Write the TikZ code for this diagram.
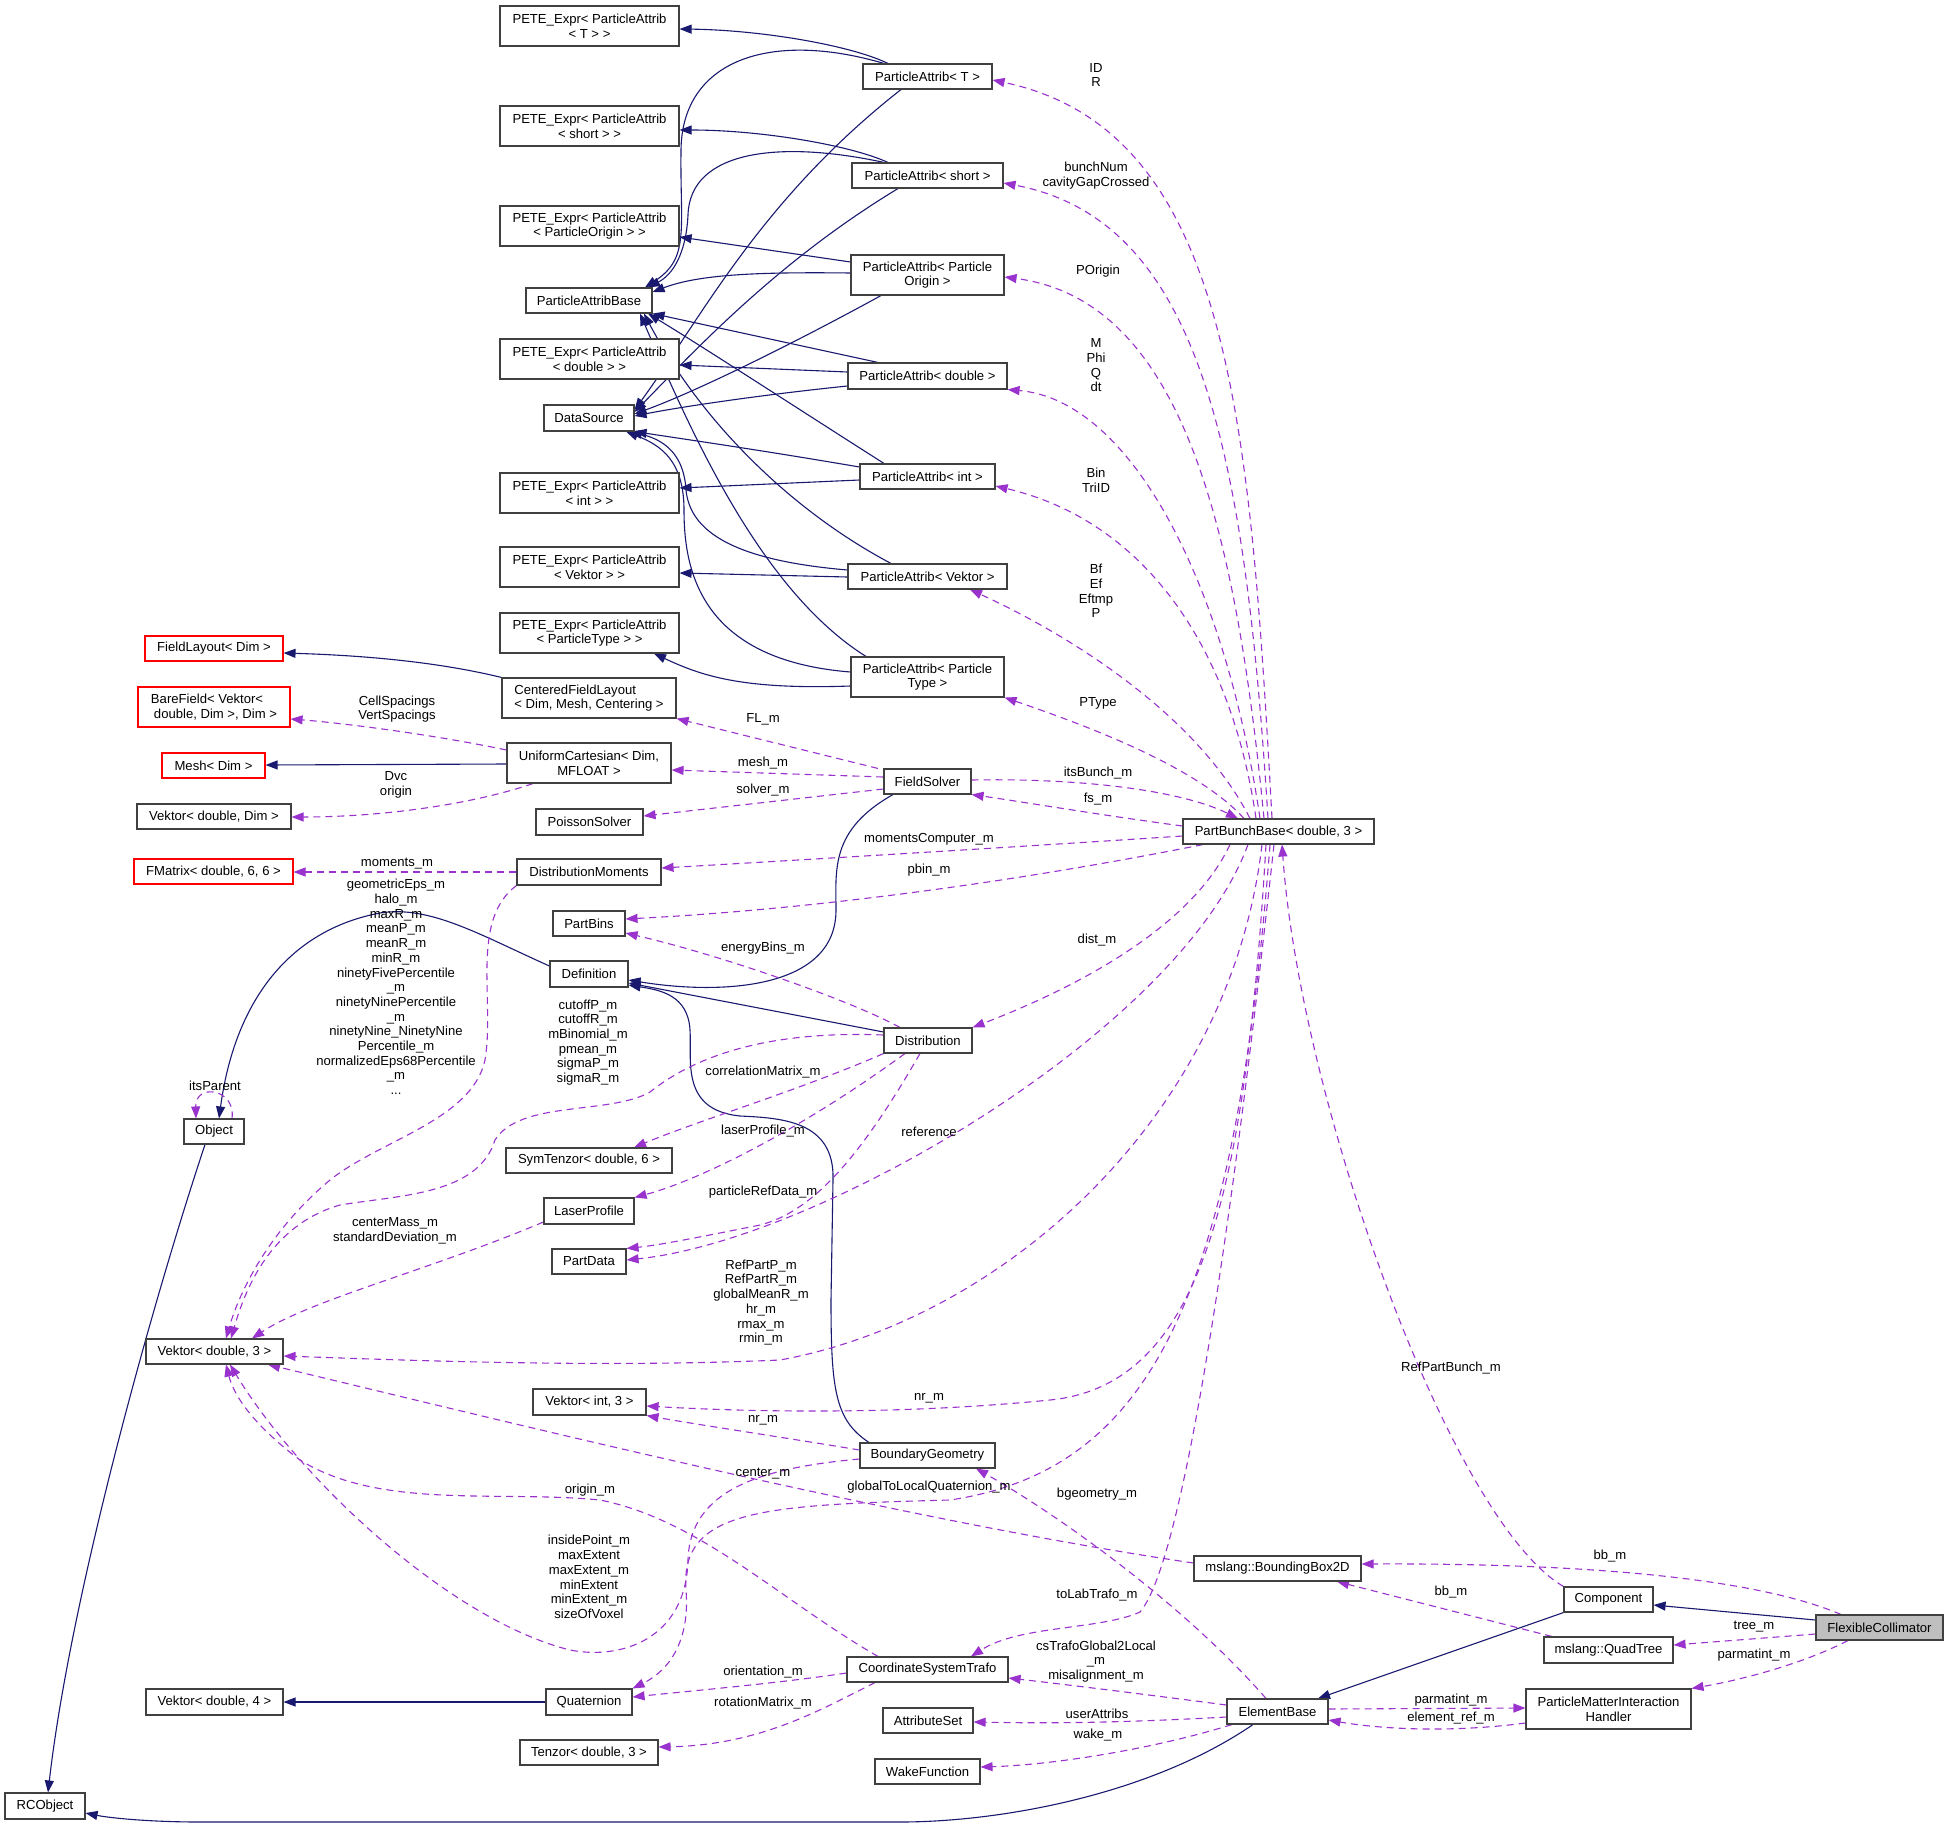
\documentclass[tikz,border=0pt]{standalone}
\usepackage{fontspec}
\setmainfont{Liberation Sans}
\usetikzlibrary{arrows.meta}
\definecolor{navy}{HTML}{191970}
\definecolor{purp}{HTML}{9A32CD}
\definecolor{bord}{HTML}{404040}
\pgfdeclarelayer{paper}
\pgfdeclarelayer{edges}
\pgfsetlayers{paper,edges,main}
\begin{document}
\begin{tikzpicture}[x=1pt,y=-1pt,
  every node/.style={font=\fontsize{13.1}{14.7}\selectfont},
  box/.style={draw=bord,line width=1.1pt,fill=white,inner sep=0pt,align=center},
  redbox/.style={box,draw=red},
  lbl/.style={inner sep=0pt,align=center},
  inh/.style={draw=navy,line width=1.1pt,-{Triangle[length=12pt,width=9pt]}},
  col/.style={draw=purp,line width=1.1pt,dash pattern=on 7pt off 5pt,-{Triangle[length=12pt,width=9pt]}}]
\useasboundingbox (0,0) rectangle (1948,1827);
\begin{pgfonlayer}{paper}
\fill[white] (0,0) rectangle (1948,1827);
\end{pgfonlayer}
% ---------- nodes ----------
\node[box,minimum width=179pt,minimum height=40pt] (peteT) at (589.5,26) {PETE\_Expr< ParticleAttrib\\< T > >};
\node[box,minimum width=179pt,minimum height=40pt] (peteS) at (589.5,126) {PETE\_Expr< ParticleAttrib\\< short > >};
\node[box,minimum width=179pt,minimum height=40pt] (peteO) at (589.5,226) {PETE\_Expr< ParticleAttrib\\< ParticleOrigin > >};
\node[box,minimum width=126pt,minimum height=25pt] (pab) at (589,300.5) {ParticleAttribBase};
\node[box,minimum width=179pt,minimum height=40pt] (peteD) at (589.5,359) {PETE\_Expr< ParticleAttrib\\< double > >};
\node[box,minimum width=90pt,minimum height=26pt] (ds) at (589,418) {DataSource};
\node[box,minimum width=179pt,minimum height=40pt] (peteI) at (589.5,493) {PETE\_Expr< ParticleAttrib\\< int > >};
\node[box,minimum width=179pt,minimum height=40pt] (peteV) at (589.5,567) {PETE\_Expr< ParticleAttrib\\< Vektor > >};
\node[box,minimum width=179pt,minimum height=40pt] (peteP) at (589.5,633) {PETE\_Expr< ParticleAttrib\\< ParticleType > >};
\node[box,minimum width=129pt,minimum height=25pt] (paT) at (927.5,76.5) {ParticleAttrib< T >};
\node[box,minimum width=151pt,minimum height=25pt] (paS) at (927.5,175.5) {ParticleAttrib< short >};
\node[box,minimum width=153pt,minimum height=40pt] (paO) at (927.5,275) {ParticleAttrib< Particle\\Origin >};
\node[box,minimum width=159pt,minimum height=26pt] (paD) at (927.5,376) {ParticleAttrib< double >};
\node[box,minimum width=135pt,minimum height=25pt] (paI) at (927.5,476.5) {ParticleAttrib< int >};
\node[box,minimum width=159pt,minimum height=25pt] (paV) at (927.5,576.5) {ParticleAttrib< Vektor >};
\node[box,minimum width=153pt,minimum height=40pt] (paP) at (927.5,677) {ParticleAttrib< Particle\\Type >};
\node[redbox,minimum width=138pt,minimum height=25pt] (fieldLayout) at (214,648.5) {FieldLayout< Dim >};
\node[box,align=left,minimum width=174pt,minimum height=40pt] (cfl) at (589,698) {CenteredFieldLayout\\< Dim, Mesh, Centering >};
\node[redbox,align=left,minimum width=152pt,minimum height=40pt] (bareField) at (214,707) {BareField< Vektor<\\\hspace*{3pt}double, Dim >, Dim >};
\node[box,minimum width=164pt,minimum height=40pt] (uc) at (589,763) {UniformCartesian< Dim,\\MFLOAT >};
\node[redbox,minimum width=103pt,minimum height=25pt] (mesh) at (213.5,765.5) {Mesh< Dim >};
\node[box,minimum width=154pt,minimum height=25pt] (vekDim) at (214,816.5) {Vektor< double, Dim >};
\node[box,minimum width=107pt,minimum height=26pt] (poisson) at (589.5,822) {PoissonSolver};
\node[redbox,minimum width=159pt,minimum height=25pt] (fmatrix) at (213.5,871.5) {FMatrix< double, 6, 6 >};
\node[box,minimum width=144pt,minimum height=26pt] (dm) at (589,872) {DistributionMoments};
\node[box,minimum width=87pt,minimum height=25pt] (fs) at (927.5,781.5) {FieldSolver};
\node[box,minimum width=191pt,minimum height=25pt] (pbb) at (1278.5,831.5) {PartBunchBase< double, 3 >};
\node[box,minimum width=72pt,minimum height=25pt] (partBins) at (589,923.5) {PartBins};
\node[box,minimum width=78pt,minimum height=26pt] (definition) at (589,974) {Definition};
\node[box,minimum width=60pt,minimum height=25pt] (object) at (214,1131.5) {Object};
\node[box,minimum width=166pt,minimum height=25pt] (symT) at (589,1160.5) {SymTenzor< double, 6 >};
\node[box,minimum width=90pt,minimum height=26pt] (laser) at (589,1211) {LaserProfile};
\node[box,minimum width=74pt,minimum height=25pt] (partData) at (589,1261.5) {PartData};
\node[box,minimum width=137pt,minimum height=25pt] (vek3) at (214.5,1351.5) {Vektor< double, 3 >};
\node[box,minimum width=88pt,minimum height=25pt] (distribution) at (928,1040.5) {Distribution};
\node[box,minimum width=113pt,minimum height=26pt] (vekI3) at (589.5,1402) {Vektor< int, 3 >};
\node[box,minimum width=86pt,minimum height=26pt] (quat) at (589,1702) {Quaternion};
\node[box,minimum width=137pt,minimum height=26pt] (vek4) at (214.5,1702) {Vektor< double, 4 >};
\node[box,minimum width=138pt,minimum height=25pt] (tenzor) at (589,1752.5) {Tenzor< double, 3 >};
\node[box,minimum width=80pt,minimum height=26pt] (rc) at (45,1806) {RCObject};
\node[box,minimum width=135pt,minimum height=25pt] (bg) at (927.5,1455.5) {BoundaryGeometry};
\node[box,minimum width=161pt,minimum height=25pt] (cst) at (927.5,1669.5) {CoordinateSystemTrafo};
\node[box,minimum width=90pt,minimum height=25pt] (attr) at (928,1720.5) {AttributeSet};
\node[box,minimum width=105pt,minimum height=25pt] (wake) at (927.5,1771.5) {WakeFunction};
\node[box,minimum width=101pt,minimum height=25pt] (eb) at (1277.5,1711.5) {ElementBase};
\node[box,minimum width=167pt,minimum height=25pt] (bb2d) at (1277.5,1568.5) {mslang::BoundingBox2D};
\node[box,minimum width=89pt,minimum height=25pt] (comp) at (1608.5,1599.5) {Component};
\node[box,fill={rgb,255:red,191;green,191;blue,191},minimum width=127pt,minimum height=25pt] (fc) at (1879.5,1627.5) {FlexibleCollimator};
\node[box,minimum width=129pt,minimum height=26pt] (qt) at (1608.5,1650) {mslang::QuadTree};
\node[box,minimum width=165pt,minimum height=40pt] (pmih) at (1608.5,1709) {ParticleMatterInteraction\\Handler};
% ---------- edges ----------
\begin{pgfonlayer}{edges}
% inheritance
\draw[inh] (paT.north -| 888,0) .. controls (850,45) and (760,30) .. (peteT.east |- 0,29);
\draw[inh] (paT.north -| 884,0) .. controls (770,30) and (682,60) .. (681,150) .. controls (680,230) and (690,258) .. (pab.north -| 645,0);
\draw[inh] (paS.north -| 888,0) .. controls (850,145) and (760,130) .. (peteS.east |- 0,130);
\draw[inh] (paS.north -| 884,0) .. controls (780,140) and (690,150) .. (688,215) .. controls (686,255) and (672,275) .. (pab.north -| 648,0);
\draw[inh] (paO.west |- 0,262) -- (peteO.east |- 0,237);
\draw[inh] (paO.west |- 0,273) .. controls (760,272) and (700,274) .. (pab.east |- 0,292);
\draw[inh] (paT.south -| 901,0) .. controls (760,200) and (700,320) .. (ds.east |- 0,410);
\draw[inh] (paS.south -| 898,0) .. controls (780,260) and (700,345) .. (ds.east |- 0,412);
\draw[inh] (paO.south -| 881,0) .. controls (800,340) and (700,390) .. (ds.east |- 0,414);
\draw[inh] (paD.west |- 0,386) .. controls (760,395) and (680,407) .. (ds.east |- 0,416);
\draw[inh] (paD.west |- 0,372) -- (peteD.east |- 0,365);
\draw[inh] (paD.north -| 878,0) -- (pab.south east);
\draw[inh] (paI.north -| 884,0) .. controls (800,410) and (700,345) .. (pab.south -| 648,0);
\draw[inh] (paI.west |- 0,467) .. controls (760,450) and (690,440) .. (ds.south east);
\draw[inh] (paI.west |- 0,480) -- (peteI.east |- 0,488);
\draw[inh] (paV.west |- 0,577) -- (peteV.east |- 0,573);
\draw[inh] (paV.west |- 0,570) .. controls (730,560) and (690,530) .. (686,490) .. controls (684,455) and (665,440) .. (ds.south -| 630,0);
\draw[inh] (paV.north -| 891,0) .. controls (790,510) and (700,420) .. (pab.south -| 644,0);
\draw[inh] (paP.north -| 866,0) .. controls (760,590) and (690,430) .. (pab.south -| 640,0);
\draw[inh] (paP.west |- 0,672) .. controls (700,660) and (684,570) .. (684,510) .. controls (684,460) and (660,445) .. (ds.south -| 626,0);
\draw[inh] (paP.west |- 0,686) .. controls (740,690) and (700,675) .. (peteP.south -| 654,0);
\draw[inh] (cfl.north west) .. controls (430,660) and (350,655) .. (fieldLayout.east |- 0,653);
\draw[inh] (uc.west |- 0,764) -- (mesh.east |- 0,765);
\draw[inh] (distribution.west |- 0,1032) -- (definition.east |- 0,983);
\draw[inh] (fs.south -| 893,0) .. controls (830,830) and (836,870) .. (836,910) .. controls (836,990) and (720,995) .. (definition.east |- 0,980);
\draw[inh] (bg.north -| 869,0) .. controls (835,1420) and (831,1390) .. (831,1300) -- (833,1180) .. controls (835,1120) and (780,1118) .. (740,1116) .. controls (680,1110) and (692,1060) .. (690,1030) .. controls (688,995) and (660,990) .. (definition.east |- 0,985);
\draw[inh] (definition.west |- 0,966) .. controls (480,935) and (430,905) .. (380,913) .. controls (290,930) and (235,1000) .. (object.north -| 219,0);
\draw[inh] (object.south -| 205,0) .. controls (150,1310) and (70,1600) .. (rc.north -| 48,0);
\draw[inh] (eb.south -| 1253,0) .. controls (1150,1795) and (1000,1822) .. (900,1822) -- (200,1822) .. controls (150,1822) and (110,1818) .. (rc.east |- 0,1813);
\draw[inh] (comp.south west) -- (eb.north -| 1318,0);
\draw[inh] (fc.west |- 0,1620) -- (comp.east |- 0,1605);
\draw[inh] (quat.west) -- (vek4.east);
% collaboration
\draw[col] (pbb.north -| 1272,0) .. controls (1250,420) and (1230,130) .. (paT.east |- 0,80);
\draw[col] (pbb.north -| 1268,0) .. controls (1245,450) and (1200,220) .. (paS.east |- 0,183);
\draw[col] (pbb.north -| 1264,0) .. controls (1235,520) and (1180,300) .. (paO.east |- 0,277);
\draw[col] (pbb.north -| 1260,0) .. controls (1225,580) and (1130,400) .. (paD.south east);
\draw[col] (pbb.north -| 1256,0) .. controls (1230,640) and (1140,520) .. (paI.east |- 0,486);
\draw[col] (pbb.north -| 1250,0) .. controls (1200,720) and (1080,640) .. (paV.south -| 970,0);
\draw[col] (pbb.north -| 1244,0) .. controls (1200,770) and (1100,730) .. (paP.south east);
\draw[col] (fs.east |- 0,780) .. controls (1080,778) and (1180,790) .. (pbb.north -| 1238,0);
\draw[col] (pbb.west |- 0,826) .. controls (1100,815) and (1030,803) .. (fs.south east);
\draw[col] (pbb.west |- 0,836) .. controls (1000,848) and (800,860) .. (dm.east |- 0,868);
\draw[col] (pbb.south -| 1203,0) .. controls (1000,885) and (800,910) .. (partBins.east |- 0,919);
\draw[col] (pbb.south -| 1230,0) .. controls (1190,930) and (1070,990) .. (distribution.north east);
\draw[col] (pbb.south -| 1248,0) .. controls (1180,1030) and (820,1240) .. (partData.east |- 0,1260);
\draw[col] (pbb.south -| 1262,0) .. controls (1230,1120) and (1000,1320) .. (780,1360) .. controls (600,1368) and (400,1360) .. (vek3.east |- 0,1356);
\draw[col] (pbb.south -| 1266,0) .. controls (1245,1200) and (1200,1385) .. (1050,1400) .. controls (900,1415) and (750,1412) .. (vekI3.east |- 0,1406);
\draw[col] (pbb.south -| 1270,0) .. controls (1235,1300) and (1150,1470) .. (950,1500) .. controls (760,1505) and (680,1510) .. (686,1590) .. controls (690,1640) and (670,1670) .. (quat.north east);
\draw[col] (pbb.south -| 1274,0) .. controls (1235,1200) and (1185,1560) .. (1140,1612) .. controls (1100,1630) and (1020,1625) .. (cst.north -| 971,0);
\draw[col] (comp.north west) .. controls (1450,1520) and (1300,1100) .. (pbb.south -| 1282,0);
\draw[col] (dm.south west) .. controls (470,920) and (495,1000) .. (485,1060) .. controls (472,1120) and (380,1140) .. (330,1180) .. controls (270,1230) and (240,1290) .. (vek3.north -| 226,0);
\draw[col] (distribution.west |- 0,1035) .. controls (760,1030) and (690,1060) .. (650,1092) .. controls (610,1115) and (520,1100) .. (495,1140) .. controls (478,1195) and (400,1195) .. (340,1205) .. controls (270,1225) and (245,1290) .. (vek3.north -| 231,0);
\draw[col] (distribution.south west) .. controls (800,1090) and (700,1120) .. (symT.north -| 634,0);
\draw[col] (distribution.south -| 905,0) .. controls (800,1130) and (700,1180) .. (laser.north east);
\draw[col] (distribution.south -| 920,0) .. controls (870,1140) and (820,1210) .. (760,1225) .. controls (700,1237) and (660,1245) .. (partData.north east);
\draw[col] (distribution.north -| 900,0) .. controls (850,1000) and (720,955) .. (partBins.east |- 0,933);
\draw[col] (laser.west |- 0,1222) .. controls (430,1270) and (310,1300) .. (vek3.north -| 252,0);
\draw[col] (uc.south -| 533,0) .. controls (470,805) and (380,817) .. (vekDim.east |- 0,817);
\draw[col] (uc.west |- 0,750) .. controls (420,732) and (330,722) .. (bareField.east |- 0,719);
\draw[col] (fs.north -| 878,0) -- (cfl.south east);
\draw[col] (fs.west |- 0,777) -- (uc.east |- 0,770);
\draw[col] (fs.west |- 0,789) -- (poisson.east |- 0,816);
\draw[col] (dm.west |- 0,872) -- (fmatrix.east |- 0,872);
\draw[col] (object.north -| 232,0) .. controls (236,1088) and (195,1083) .. (object.north -| 196,0);
\draw[col] (bg.west |- 0,1450) .. controls (800,1440) and (700,1425) .. (vekI3.south east);
\draw[col] (bg.west |- 0,1459) .. controls (760,1468) and (690,1490) .. (688,1560) .. controls (686,1640) and (620,1660) .. (570,1650) .. controls (450,1620) and (300,1480) .. (vek3.south -| 230,0);
\draw[col] (cst.north -| 878,0) .. controls (780,1600) and (700,1520) .. (600,1500) .. controls (500,1490) and (380,1510) .. (300,1460) .. controls (260,1430) and (235,1400) .. (vek3.south -| 226,0);
\draw[col] (bb2d.west |- 0,1563) .. controls (900,1520) and (500,1420) .. (vek3.south -| 268,0);
\draw[col] (cst.west |- 0,1673) .. controls (780,1683) and (700,1690) .. (quat.east |- 0,1697);
\draw[col] (cst.south -| 875,0) .. controls (820,1710) and (760,1745) .. (tenzor.east |- 0,1747);
\draw[col] (eb.north -| 1266,0) .. controls (1180,1600) and (1050,1510) .. (bg.south -| 976,0);
\draw[col] (eb.west |- 0,1705) .. controls (1150,1695) and (1070,1685) .. (cst.east |- 0,1678);
\draw[col] (eb.west |- 0,1717) .. controls (1100,1724) and (1030,1723) .. (attr.east |- 0,1722);
\draw[col] (eb.south -| 1232,0) .. controls (1150,1750) and (1050,1765) .. (wake.east |- 0,1767);
\draw[col] (fc.north -| 1841,0) .. controls (1760,1580) and (1600,1563) .. (bb2d.east |- 0,1564);
\draw[col] (fc.west |- 0,1634) -- (qt.east |- 0,1645);
\draw[col] (fc.south -| 1848,0) .. controls (1800,1665) and (1740,1680) .. (pmih.north east);
\draw[col] (qt.north -| 1552,0) -- (bb2d.south -| 1337,0);
\draw[col] (eb.east |- 0,1709) -- (pmih.west |- 0,1708);
\draw[col] (pmih.west |- 0,1723) .. controls (1450,1733) and (1380,1729) .. (eb.east |- 0,1720);
\end{pgfonlayer}
% ---------- labels ----------
\node[lbl] (l1) at (1096,75) {ID\\R};
\node[lbl] (l2) at (1096,175.5) {bunchNum\\cavityGapCrossed};
\node[lbl] (l3) at (1098,271) {POrigin};
\node[lbl] (l4) at (1096,365.5) {M\\Phi\\Q\\dt};
\node[lbl] (l5) at (1096,480) {Bin\\TriID};
\node[lbl] (l6) at (1096,591) {Bf\\Ef\\Eftmp\\P};
\node[lbl] (l7) at (1098,703) {PType};
\node[lbl] (l8) at (397,709) {CellSpacings\\VertSpacings};
\node[lbl] (l9) at (396,785) {Dvc\\origin};
\node[lbl] (l10) at (763,719) {FL\_m};
\node[lbl] (l11) at (763,763) {mesh\_m};
\node[lbl] (l12) at (763,790) {solver\_m};
\node[lbl] (l13) at (1098,773) {itsBunch\_m};
\node[lbl] (l14) at (1098,799) {fs\_m};
\node[lbl] (l15) at (929,839) {momentsComputer\_m};
\node[lbl] (l16) at (929,870) {pbin\_m};
\node[lbl] (l17) at (397,864) {moments\_m};
\node[lbl] (l18) at (396,987) {geometricEps\_m\\halo\_m\\maxR\_m\\meanP\_m\\meanR\_m\\minR\_m\\ninetyFivePercentile\\\_m\\ninetyNinePercentile\\\_m\\ninetyNine\_NinetyNine\\Percentile\_m\\normalizedEps68Percentile\\\_m\\...};
\node[lbl] (l19) at (763,948) {energyBins\_m};
\node[lbl] (l20) at (1097,940) {dist\_m};
\node[lbl] (l21) at (215,1086) {itsParent};
\node[lbl] (l22) at (588,1042.5) {cutoffP\_m\\cutoffR\_m\\mBinomial\_m\\pmean\_m\\sigmaP\_m\\sigmaR\_m};
\node[lbl] (l23) at (763,1072) {correlationMatrix\_m};
\node[lbl] (l24) at (763,1131) {laserProfile\_m};
\node[lbl] (l25) at (929,1132) {reference};
\node[lbl] (l26) at (763,1192) {particleRefData\_m};
\node[lbl] (l27) at (395,1231) {centerMass\_m\\standardDeviation\_m};
\node[lbl] (l28) at (761,1302.5) {RefPartP\_m\\RefPartR\_m\\globalMeanR\_m\\hr\_m\\rmax\_m\\rmin\_m};
\node[lbl] (l29) at (1451,1368) {RefPartBunch\_m};
\node[lbl] (l30) at (929,1398) {nr\_m};
\node[lbl] (l31) at (763,1420) {nr\_m};
\node[lbl] (l32) at (763,1474) {center\_m};
\node[lbl] (l33) at (929,1487) {globalToLocalQuaternion\_m};
\node[lbl] (l34) at (590,1490) {origin\_m};
\node[lbl] (l35) at (1097,1494) {bgeometry\_m};
\node[lbl] (l36) at (589,1577) {insidePoint\_m\\maxExtent\\maxExtent\_m\\minExtent\\minExtent\_m\\sizeOfVoxel};
\node[lbl] (l37) at (1610,1556) {bb\_m};
\node[lbl] (l38) at (1451,1592) {bb\_m};
\node[lbl] (l39) at (1097,1595) {toLabTrafo\_m};
\node[lbl] (l40) at (1754,1627) {tree\_m};
\node[lbl] (l41) at (1096,1661.5) {csTrafoGlobal2Local\\\_m\\misalignment\_m};
\node[lbl] (l42) at (1754,1655) {parmatint\_m};
\node[lbl] (l43) at (763,1672) {orientation\_m};
\node[lbl] (l44) at (1451,1700) {parmatint\_m};
\node[lbl] (l45) at (763,1703) {rotationMatrix\_m};
\node[lbl] (l46) at (1097,1714) {userAttribs};
\node[lbl] (l47) at (1451,1718) {element\_ref\_m};
\node[lbl] (l48) at (1098,1735) {wake\_m};
\end{tikzpicture}
\end{document}
